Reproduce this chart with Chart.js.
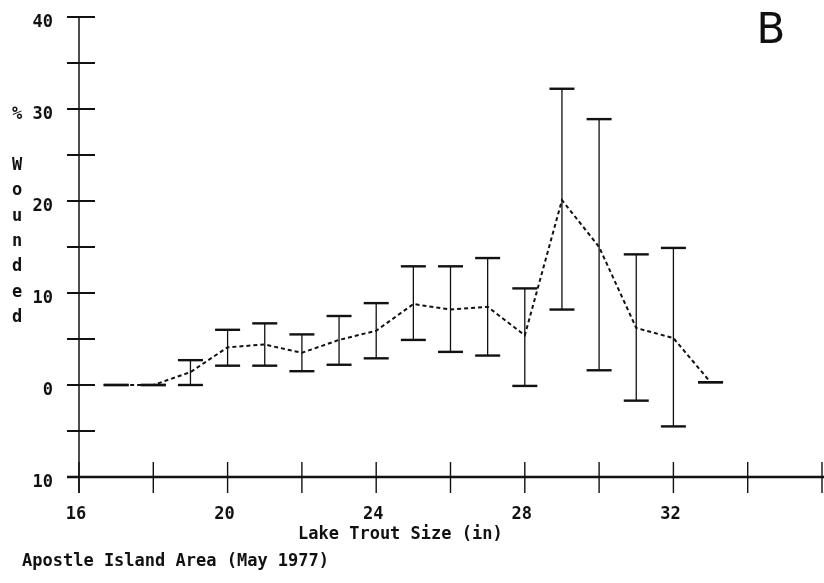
<!DOCTYPE html>
<html>
<head>
<meta charset="utf-8">
<script src="https://cdn.jsdelivr.net/npm/chart.js@4/dist/chart.umd.min.js"></script>
<style>
  html, body { margin: 0; padding: 0; background: #fff; }
  #wrap { width: 824px; height: 583px; }
</style>
</head>
<body>
<div id="wrap"><canvas id="c" width="824" height="583"></canvas></div>
<script>
// ---- data ----
const sizes  = [17, 18, 19, 20, 21, 22, 23, 24, 25, 26, 27, 28, 29, 30, 31, 32, 33];
const means  = [0, 0, 1.4, 4.1, 4.4, 3.5, 4.9, 5.9, 8.8, 8.2, 8.5, 5.4, 20.1, 15.0, 6.2, 5.1, 0.3];
const upper  = [0, 0, 2.7, 6.0, 6.7, 5.5, 7.5, 8.9, 12.9, 12.9, 13.8, 10.5, 32.2, 28.9, 14.2, 14.9, 0.3];
const lower  = [0, 0, 0.0, 2.1, 2.1, 1.5, 2.2, 2.9, 4.9, 3.6, 3.2, -0.1, 8.2, 1.6, -1.7, -4.5, 0.3];

const xTickValues = [16, 20, 24, 28, 32];
const xTickLabels = ['16', '20', '24', '28', '32'];
const yTickValues = [-10, 0, 10, 20, 30, 40];
const yTickLabels = ['10', '0', '10', '20', '30', '40'];

const xTitle = 'Lake Trout Size (in)';
const yTitle = '% Wounded';
const caption = 'Apostle Island Area (May 1977)';
const mark = 'B';

const FONT = '"DejaVu Sans Mono", "Liberation Mono", monospace';
const INK = '#111';

function zeroPad(s) { s.paddingTop = 0; s.paddingBottom = 0; s.paddingLeft = 0; s.paddingRight = 0; }

const errorBars = {
  id: 'errorBars',
  afterDatasetsDraw(chart) {
    const {ctx, scales: {x, y}} = chart;
    ctx.save();
    ctx.strokeStyle = INK;
    for (let i = 0; i < sizes.length; i++) {
      const px = x.getPixelForValue(sizes[i]);
      const pt = y.getPixelForValue(upper[i]);
      const pb = y.getPixelForValue(lower[i]);
      if (pb - pt > 1) {
        ctx.lineWidth = 1.3;
        ctx.beginPath(); ctx.moveTo(px, pt); ctx.lineTo(px, pb); ctx.stroke();
      }
      ctx.lineWidth = 2.4;
      ctx.beginPath(); ctx.moveTo(px - 12.5, pt); ctx.lineTo(px + 12.5, pt); ctx.stroke();
      ctx.beginPath(); ctx.moveTo(px - 12.5, pb); ctx.lineTo(px + 12.5, pb); ctx.stroke();
    }
    ctx.restore();
  }
};

const axesAndText = {
  id: 'axesAndText',
  beforeDatasetsDraw(chart) {
    const {ctx, chartArea: a, scales: {x, y}} = chart;
    ctx.save();
    ctx.strokeStyle = INK;
    ctx.lineWidth = 1.5;
    ctx.beginPath(); ctx.moveTo(a.left, a.top); ctx.lineTo(a.left, a.bottom + 16); ctx.stroke();
    ctx.lineWidth = 2;
    y.ticks.forEach(t => {
      const py = y.getPixelForValue(t.value);
      ctx.beginPath(); ctx.moveTo(a.left - 12, py); ctx.lineTo(a.left + 16, py); ctx.stroke();
    });
    ctx.lineWidth = 2.6;
    ctx.beginPath(); ctx.moveTo(a.left - 12, a.bottom); ctx.lineTo(a.right + 2, a.bottom); ctx.stroke();
    ctx.lineWidth = 1.4;
    x.ticks.forEach(t => {
      const px = x.getPixelForValue(t.value);
      ctx.beginPath(); ctx.moveTo(px, a.bottom - 15); ctx.lineTo(px, a.bottom + 16); ctx.stroke();
    });
    ctx.restore();
  },
  afterDraw(chart) {
    const {ctx} = chart;
    ctx.save();
    ctx.fillStyle = INK;
    ctx.font = 'bold 17px ' + FONT;
    ctx.textBaseline = 'middle';
    ctx.textAlign = 'left';
    ctx.fillText(xTitle, 298, 535);
    ctx.fillText(caption, 22, 562);
    ctx.textAlign = 'center';
    Array.from(yTitle).forEach((ch, i) => { ctx.fillText(ch, 17, 115 + i * 25.3); });
    ctx.font = '42px "DejaVu Sans", sans-serif';
    ctx.fillText(mark, 771, 32);
    ctx.restore();
  }
};

new Chart(document.getElementById('c'), {
  type: 'line',
  data: {
    datasets: [{
      data: sizes.map((s, i) => ({x: s, y: means[i]})),
      borderColor: INK,
      borderWidth: 2,
      borderDash: [4, 3],
      pointRadius: 0,
      fill: false,
      tension: 0
    }]
  },
  options: {
    responsive: false,
    animation: false,
    layout: {padding: {top: 17, right: 2, left: 0, bottom: 0}},
    plugins: {legend: {display: false}, tooltip: {enabled: false}, title: {display: false}},
    scales: {
      x: {
        type: 'linear', min: 16, max: 36,
        grid: {display: false}, border: {display: false},
        ticks: {
          stepSize: 2, autoSkip: false, maxRotation: 0, padding: 19, labelOffset: -3,
          color: INK, font: {family: FONT, size: 17, weight: 'bold'},
          callback: v => { const k = xTickValues.indexOf(v); return k >= 0 ? xTickLabels[k] : ''; }
        },
        afterFit: s => { s.height = 106; zeroPad(s); }
      },
      y: {
        type: 'linear', min: -10, max: 40,
        grid: {display: false}, border: {display: false},
        ticks: {
          stepSize: 5, autoSkip: false, padding: 18, labelOffset: 6,
          color: INK, font: {family: FONT, size: 17, weight: 'bold'},
          callback: v => { const k = yTickValues.indexOf(v); return k >= 0 ? yTickLabels[k] : ''; }
        },
        afterFit: s => { s.width = 79; zeroPad(s); }
      }
    }
  },
  plugins: [axesAndText, errorBars]
});
</script>
</body>
</html>
